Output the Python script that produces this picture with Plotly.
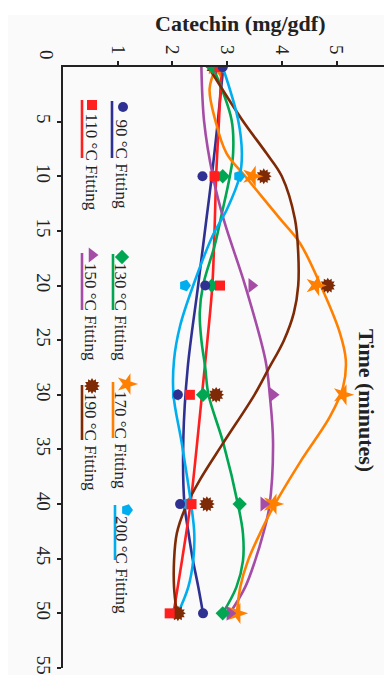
import plotly.graph_objects as go

# ---------------- data ----------------
times = [0, 10, 20, 30, 40, 50]
temps = ["90 °C", "110 °C", "130 °C", "150 °C", "170 °C", "190 °C", "200 °C"]

cat_90 = [2.92, 2.55, 2.60, 2.10, 2.14, 2.56]
cat_110 = [2.86, 2.77, 2.87, 2.32, 2.35, 1.95]
cat_130 = [2.74, 2.92, 2.72, 2.56, 3.23, 2.92]
cat_150 = [2.82, 2.78, 3.45, 3.84, 3.67, 3.05]
cat_170 = [2.82, 3.46, 4.62, 5.12, 3.84, 3.18]
cat_190 = [2.75, 3.67, 4.84, 2.80, 2.63, 2.10]
cat_200 = [2.90, 3.22, 2.23, 2.08, 2.25, 2.02]

fit_t_90 = [0, 5, 10, 14, 20, 27.5, 34, 40, 42.5, 45, 47.5, 50]
fit_c_90 = [2.93, 2.83, 2.72, 2.62, 2.47, 2.28, 2.20, 2.22, 2.29, 2.37, 2.47, 2.56]

fit_t_110 = [0, 5, 10, 15, 20, 25, 30, 35, 40, 45, 50]
fit_c_110 = [2.90, 2.85, 2.80, 2.77, 2.73, 2.64, 2.54, 2.44, 2.33, 2.18, 2.02]

fit_t_130 = [0, 4.8, 7.9, 10, 13.5, 16.2, 20, 22.5, 25, 27.5, 30, 34.4, 40.3, 42.7, 45.2, 47.6, 50]
fit_c_130 = [2.74, 3.08, 3.11, 3.05, 2.90, 2.78, 2.56, 2.50, 2.53, 2.60, 2.66, 2.93, 3.21, 3.29, 3.29, 3.17, 2.92]

fit_t_150 = [0, 5, 10, 14, 20, 26.8, 30, 34.4, 40.3, 42.7, 45.2, 47.6, 50]
fit_c_150 = [2.53, 2.58, 2.74, 2.94, 3.33, 3.70, 3.78, 3.84, 3.77, 3.66, 3.51, 3.33, 3.05]

fit_t_170 = [0, 2, 4.8, 7.9, 10, 13.9, 16.1, 20.2, 24.3, 26.8, 29.3, 32, 36.2, 40.3, 42.7, 45.2, 47.6, 50]
fit_c_170 = [2.80, 2.68, 2.78, 2.99, 3.33, 3.97, 4.33, 4.73, 5.06, 5.17, 5.12, 4.88, 4.33, 3.84, 3.60, 3.38, 3.24, 3.18]

fit_t_190 = [0, 4.8, 7.9, 10, 13.9, 17, 20, 22.5, 25, 27.7, 30, 34.4, 37.8, 40.3, 42.7, 45.2, 47.6, 50]
fit_c_190 = [2.66, 3.27, 3.72, 4.00, 4.24, 4.30, 4.30, 4.22, 4.04, 3.75, 3.50, 2.93, 2.50, 2.24, 2.08, 2.03, 2.03, 2.08]

fit_t_200 = [0, 4.8, 7.9, 10, 13, 15.4, 20, 23.7, 26.8, 30, 34.4, 40.3, 42.7, 45.2, 47.6, 50]
fit_c_200 = [2.92, 3.20, 3.27, 3.23, 3.00, 2.74, 2.38, 2.14, 2.03, 2.02, 2.17, 2.35, 2.40, 2.38, 2.29, 2.10]

time_ticks = [0, 5, 10, 15, 20, 25, 30, 35, 40, 45, 50, 55]
cat_ticks = [1, 2, 3, 4, 5]

# ---------------- styles ----------------
W, H = 384, 675
ML, MT, MB, MR = 63, 67, 7, 0
PX_PER_UNIT = 54.7
X_MAX = (W - ML - MR) / PX_PER_UNIT
PLOT_W = W - ML - MR
PLOT_H = H - MT - MB

colors = ["#2E3192", "#FF1F1F", "#00A651", "#A54CA6", "#FF8000", "#7F2A06", "#00AEEF"]
symbols = ["circle", "square", "diamond", "triangle-right", "star", "hexagram", "pentagon"]
angles = [0, 0, 0, 0, 90, 0, 90]
sizes = [10, 10, 11, 13, 16, 12, 12]

points = [cat_90, cat_110, cat_130, cat_150, cat_170, cat_190, cat_200]
fits = [(fit_t_90, fit_c_90), (fit_t_110, fit_c_110), (fit_t_130, fit_c_130),
        (fit_t_150, fit_c_150), (fit_t_170, fit_c_170), (fit_t_190, fit_c_190),
        (fit_t_200, fit_c_200)]

SERIF = "Liberation Serif"

def px_to_data(px, py):
    cx = (px - ML) / PX_PER_UNIT
    ty = (py - MT) / PLOT_H * 55
    return cx, ty

def px_to_paper(px, py):
    return (px - ML) / PLOT_W, (H - MB - py) / PLOT_H

fig = go.Figure()

# fitting curves
for i, (ft, fc) in enumerate(fits):
    fig.add_trace(go.Scatter(x=fc, y=ft, mode="lines",
                             line=dict(color=colors[i], width=2.6, shape="spline", smoothing=1.0),
                             showlegend=False, hoverinfo="skip"))

# data markers (drawn in reverse so early series sit on top)
for i in reversed(range(7)):
    fig.add_trace(go.Scatter(x=points[i], y=times, mode="markers",
                             marker=dict(symbol=symbols[i], size=sizes[i], color=colors[i],
                                         angle=angles[i], line=dict(width=0)),
                             showlegend=False))
    if symbols[i] == "hexagram":
        fig.add_trace(go.Scatter(x=points[i], y=times, mode="markers",
                                 marker=dict(symbol="hexagram", size=sizes[i], color=colors[i],
                                             angle=30, line=dict(width=0)),
                                 showlegend=False))

# ---------------- custom rotated legend ----------------
legend_items = [
    dict(mx=123, my=107, lx=112, ly0=101, ly1=158, tx=121, ty=117),
    dict(mx=92, my=105, lx=82, ly0=100, ly1=158, tx=91, ty=111),
    dict(mx=122, my=257, lx=113, ly0=254, ly1=310, tx=121, ty=261),
    dict(mx=92, my=255, lx=82, ly0=253, ly1=310, tx=91, ty=261),
    dict(mx=127, my=384, lx=113, ly0=382, ly1=438, tx=121, ty=389),
    dict(mx=92, my=386, lx=82, ly0=385, ly1=440, tx=91, ty=391),
    dict(mx=127, my=510, lx=115, ly0=505, ly1=560, tx=122, ty=514),
]
for i in range(7):
    it = legend_items[i]
    cx, ty = px_to_data(it["mx"], it["my"])
    fig.add_trace(go.Scatter(x=[cx], y=[ty], mode="markers",
                             marker=dict(symbol=symbols[i], size=sizes[i], color=colors[i],
                                         angle=angles[i], line=dict(width=0)),
                             showlegend=False, hoverinfo="skip"))
    if symbols[i] == "hexagram":
        fig.add_trace(go.Scatter(x=[cx], y=[ty], mode="markers",
                                 marker=dict(symbol="hexagram", size=sizes[i], color=colors[i],
                                             angle=30, line=dict(width=0)),
                                 showlegend=False, hoverinfo="skip"))
    x0, y0 = px_to_paper(it["lx"], it["ly0"])
    x1, y1 = px_to_paper(it["lx"], it["ly1"])
    fig.add_shape(type="line", xref="paper", yref="paper", x0=x0, x1=x1, y0=y0, y1=y1,
                  line=dict(color=colors[i], width=2.6))
    ax, ay = px_to_paper(it["tx"], it["ty"])
    fig.add_annotation(xref="paper", yref="paper", x=ax, y=ay, text=temps[i] + " Fitting",
                       textangle=90, showarrow=False, xanchor="center", yanchor="top",
                       font=dict(family=SERIF, size=17, color="#222"))

# titles
tx, ty = px_to_paper(240, 23)
fig.add_annotation(xref="paper", yref="paper", x=tx, y=ty, text="<b>Catechin (mg/gdf)</b>",
                   showarrow=False, xanchor="center", yanchor="middle",
                   font=dict(family=SERIF, size=22, color="#222"))
tx, ty = px_to_paper(366, 400)
fig.add_annotation(xref="paper", yref="paper", x=tx, y=ty, text="<b>Time (minutes)</b>",
                   textangle=90, showarrow=False, xanchor="center", yanchor="middle",
                   font=dict(family=SERIF, size=22, color="#222"))
tx, ty = px_to_paper(47, 55)
fig.add_annotation(xref="paper", yref="paper", x=tx, y=ty, text="0",
                   textangle=90, showarrow=False, xanchor="center", yanchor="middle",
                   font=dict(family=SERIF, size=19, color="#222"))

# white strip at top / left edge
x0, _ = px_to_paper(0, 0)
xl, _ = px_to_paper(8, 0)
_, yt = px_to_paper(0, 15)
_, ytop = px_to_paper(0, -5)
fig.add_shape(type="rect", xref="paper", yref="paper", x0=x0 - 0.05, x1=1.05, y0=yt, y1=ytop,
              fillcolor="white", line=dict(width=0), layer="below")
_, ybot = px_to_paper(0, 680)
fig.add_shape(type="rect", xref="paper", yref="paper", x0=x0 - 0.05, x1=xl, y0=ybot, y1=ytop,
              fillcolor="white", line=dict(width=0), layer="below")

fig.update_layout(
    width=W, height=H,
    margin=dict(l=ML, r=MR, t=MT, b=MB),
    paper_bgcolor="#fafafa", plot_bgcolor="#fafafa",
    showlegend=False,
    xaxis=dict(side="top", range=[0, X_MAX], tickvals=cat_ticks, ticktext=[str(v) for v in cat_ticks],
               tickangle=90, ticks="outside", ticklen=4, tickwidth=1.5, tickcolor="#222",
               showline=True, linecolor="#222", linewidth=1.5, showgrid=False, zeroline=False,
               tickfont=dict(family=SERIF, size=19, color="#222")),
    yaxis=dict(range=[55, 0], tickvals=time_ticks[1:], ticktext=[str(v) for v in time_ticks[1:]],
               tickangle=90, ticks="outside", ticklen=4, tickwidth=1.5, tickcolor="#222",
               showline=True, linecolor="#222", linewidth=1.5, showgrid=False, zeroline=False,
               ticklabelstandoff=-3,
               tickfont=dict(family=SERIF, size=19, color="#222")),
)

fig.write_html("out.html")
